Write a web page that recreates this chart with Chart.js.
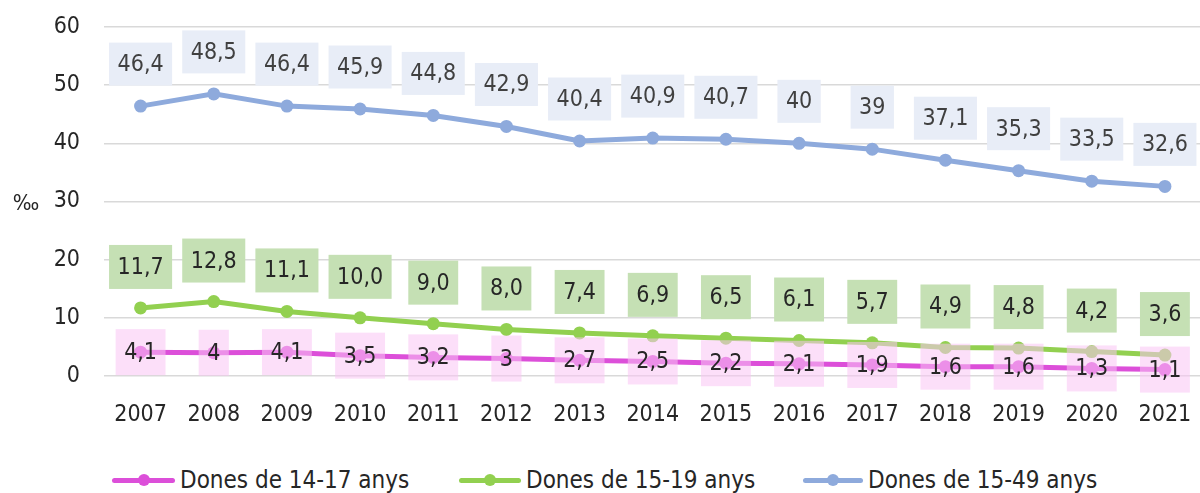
<!DOCTYPE html>
<html>
<head>
<meta charset="utf-8">
<script src="https://cdn.jsdelivr.net/npm/chart.js@4.4.0/dist/chart.umd.min.js"></script>
<style>
  html, body { margin: 0; padding: 0; background: #fff; overflow: hidden; width: 1200px; height: 493px; }
  #wrap { position: relative; width: 1208px; height: 493px; }
  #grafic { position: absolute; left: 0; top: 0; }
  .item { position: absolute; top: 460px; height: 40px; display: flex; align-items: center;
          font-family: "DejaVu Sans Condensed", "Liberation Sans", sans-serif; font-size: 24px; color: #262626; }
  .sym { position: relative; height: 5px; border-radius: 3px; margin-right: 5px; }
  .sym::after { content: ''; position: absolute; left: 50%; top: 50%; width: 12px; height: 12px;
                border-radius: 50%; background: inherit; transform: translate(-50%, -50%); }
</style>
</head>
<body>
<div id="wrap">
  <canvas id="grafic" width="1208" height="440"></canvas>
  <div class="item" style="left:112px"><span class="sym" style="width:63px;background:#dc4fd9"></span>Dones de 14-17 anys</div>
  <div class="item" style="left:459px"><span class="sym" style="width:62px;background:#92d050"></span>Dones de 15-19 anys</div>
  <div class="item" style="left:803px"><span class="sym" style="width:60px;background:#8eaadc"></span>Dones de 15-49 anys</div>
</div>
<script>
  // Dades (taxa de fecunditat, ‰)
  const anys = ["2007", "2008", "2009", "2010", "2011", "2012", "2013", "2014",
                "2015", "2016", "2017", "2018", "2019", "2020", "2021"];
  const dones14_17 = [4.1, 4, 4.1, 3.5, 3.2, 3, 2.7, 2.5, 2.2, 2.1, 1.9, 1.6, 1.6, 1.3, 1.1];
  const dones15_19 = [11.7, 12.8, 11.1, 10.0, 9.0, 8.0, 7.4, 6.9, 6.5, 6.1, 5.7, 4.9, 4.8, 4.2, 3.6];
  const dones15_49 = [46.4, 48.5, 46.4, 45.9, 44.8, 42.9, 40.4, 40.9, 40.7, 40, 39, 37.1, 35.3, 33.5, 32.6];
  const ticksY = [0, 10, 20, 30, 40, 50, 60];

  const FONT = '"DejaVu Sans Condensed", "Liberation Sans", sans-serif';

  // Estil de les etiquetes de cada sèrie
  const estilEtiquetes = [
    { caixa: "rgba(250, 196, 244, 0.55)", text: "#262626", despl: 0, fix: false, h: 46 },
    { caixa: "#c5e0b4", text: "#262626", despl: -41, fix: true, h: 44 },
    { caixa: "#e8edf7", text: "#404040", despl: -42, fix: false, h: 43 }
  ];

  const formatNum = (v, fix) => (fix ? v.toFixed(1) : String(v)).replace(".", ",");

  // Dibuixa les etiquetes amb caixa de fons
  const etiquetes = {
    id: "etiquetes",
    afterDatasetsDraw(chart) {
      const ctx = chart.ctx;
      ctx.save();
      ctx.font = "23px " + FONT;
      ctx.textAlign = "center";
      ctx.textBaseline = "middle";
      chart.data.datasets.forEach((ds, i) => {
        const estil = estilEtiquetes[i];
        chart.getDatasetMeta(i).data.forEach((pt, j) => {
          const txt = formatNum(ds.data[j], estil.fix);
          const w = ctx.measureText(txt).width + 17;
          const cy = pt.y + estil.despl;
          ctx.fillStyle = estil.caixa;
          ctx.fillRect(pt.x - w / 2, cy - estil.h / 2, w, estil.h);
          ctx.fillStyle = estil.text;
          ctx.fillText(txt, pt.x, cy + 1);
        });
      });
      ctx.restore();
    }
  };

  // Símbol ‰ a l'esquerra de l'eix
  const unitat = {
    id: "unitat",
    afterDraw(chart) {
      const ctx = chart.ctx;
      ctx.save();
      ctx.font = "22px " + FONT;
      ctx.fillStyle = "#262626";
      ctx.textAlign = "center";
      ctx.textBaseline = "middle";
      ctx.fillText("‰", 26, chart.scales.y.getPixelForValue(30) + 3);
      ctx.restore();
    }
  };

  const serie = (label, data, color) => ({
    label: label,
    data: data,
    borderColor: color,
    backgroundColor: color,
    borderWidth: 5,
    pointRadius: 6.5,
    pointHoverRadius: 6.5,
    pointBorderWidth: 0,
    tension: 0
  });

  new Chart(document.getElementById("grafic"), {
    type: "line",
    data: {
      labels: anys,
      datasets: [
        serie("Dones de 14-17 anys", dones14_17, "#dc4fd9"),
        serie("Dones de 15-19 anys", dones15_19, "#92d050"),
        serie("Dones de 15-49 anys", dones15_49, "#8eaadc")
      ]
    },
    options: {
      responsive: false,
      animation: false,
      layout: { padding: { top: 27, left: 0, right: 0, bottom: 0 } },
      plugins: { legend: { display: false }, tooltip: { enabled: false } },
      scales: {
        x: {
          offset: true,
          grid: { display: false, drawTicks: false },
          border: { display: false },
          ticks: { color: "#262626", font: { family: FONT, size: 23 }, padding: 25, maxRotation: 0 },
          afterFit(scale) { scale.height = 64; scale.paddingLeft = 0; scale.paddingRight = 0; }
        },
        y: {
          min: 0,
          max: 60,
          afterBuildTicks(scale) { scale.ticks = ticksY.map(v => ({ value: v })); },
          grid: { color: "#d9d9d9", lineWidth: 1.5, drawTicks: false },
          border: { display: false },
          ticks: { color: "#262626", font: { family: FONT, size: 23 }, padding: 24 },
          afterFit(scale) { scale.width = 104; scale.paddingTop = 0; scale.paddingBottom = 0; }
        }
      }
    },
    plugins: [etiquetes, unitat]
  });
</script>
</body>
</html>
